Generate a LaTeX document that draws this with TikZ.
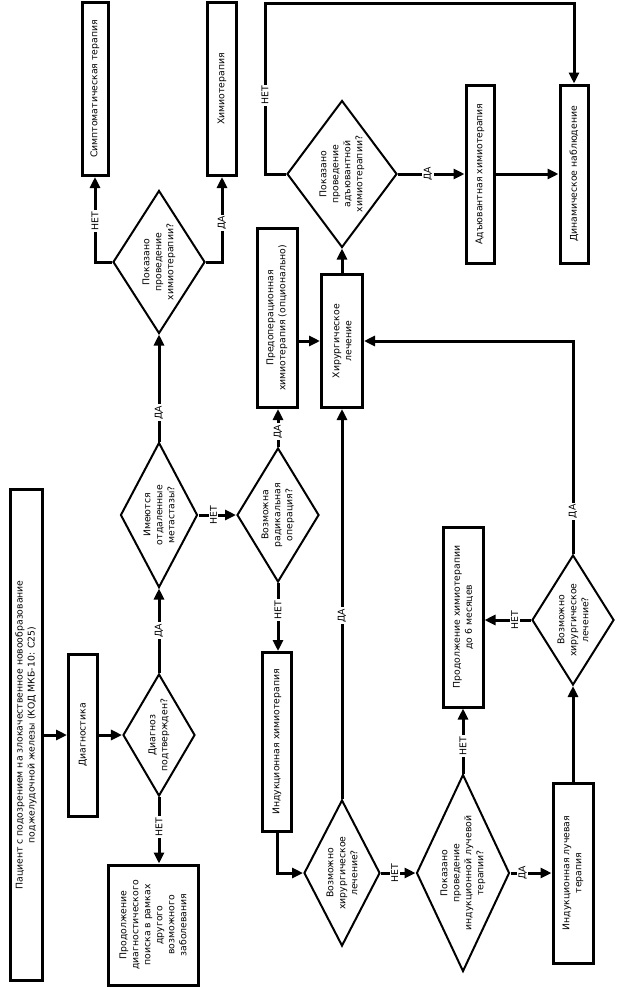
\documentclass[tikz,border=0pt]{standalone}
\usepackage{fontspec}
\setmainfont{DejaVu Sans}
\usetikzlibrary{shapes.geometric,arrows.meta}

\begin{document}
\begin{tikzpicture}
    [x=1pt,y=-1pt,
     every node/.style={font=\fontsize{9.3}{12}\selectfont},
     box/.style={draw,line width=3pt,rotate=90,align=center,inner sep=1pt},
     dia/.style={draw,diamond,line width=2pt,rotate=90,align=center,inner sep=-8pt,aspect=1.5},
     lab/.style={fill=white,rotate=90,inner sep=1.5pt},
     arr/.style={line width=3pt,-{Triangle[length=11pt,width=10pt]}},
     wire/.style={line width=3pt}]
    \useasboundingbox (0,0) rectangle (616,988);
    \node[box,minimum width=491pt,minimum height=32pt] (pat) at (26,735) {Пациент с подозрением на злокачественное новообразование\\поджелудочной железы (КОД МКБ-10: C25)};
    \node[box,minimum width=162pt,minimum height=29pt] (diag) at (83,735) {Диагностика};
    \node[dia,minimum width=122pt,minimum height=72pt] (d1) at (159,735) {Диагноз\\подтвержден?};
    \node[box,minimum width=120pt,minimum height=90pt] (cont) at (153,925) {Продолжение\\диагностического\\поиска в рамках\\другого\\возможного\\заболевания};
    \node[dia,minimum width=145pt,minimum height=77pt] (d2) at (159,515) {Имеются\\отдаленные\\метастазы?};
    \node[dia,minimum width=143pt,minimum height=92pt] (d3) at (159,262) {Показано\\проведение\\химиотерапии?};
    \node[box,minimum width=173pt,minimum height=26pt] (symp) at (95,89) {Симптоматическая терапия};
    \node[box,minimum width=173pt,minimum height=29pt] (chemo) at (222,89) {Химиотерапия};
    \node[dia,minimum width=134pt,minimum height=82pt] (d4) at (278,515) {Возможна\\радикальная\\операция?};
    \node[box,minimum width=179pt,minimum height=40pt] (preop) at (277,318) {Предоперационная\\химиотерапия (опционально)};
    \node[box,minimum width=133pt,minimum height=41pt] (surg) at (342,341) {Хирургическое\\лечение};
    \node[dia,minimum width=147pt,minimum height=110pt] (d5) at (342,174) {Показано\\проведение\\адъювантной\\химиотерапии?};
    \node[box,minimum width=178pt,minimum height=28pt] (adj) at (480,174) {Адъювантная химиотерапия};
    \node[box,minimum width=178pt,minimum height=28pt] (dyn) at (574,174) {Динамическое наблюдение};
    \node[box,minimum width=179pt,minimum height=29pt] (induc) at (277,742) {Индукционная химиотерапия};
    \node[dia,minimum width=146pt,minimum height=76pt] (d6) at (342,873) {Возможно\\хирургическое\\лечение?};
    \node[dia,aspect=2,minimum width=197pt,minimum height=93pt] (d7) at (463,873) {Показано\\проведение\\индукционной лучевой\\терапии?};
    \node[box,minimum width=180pt,minimum height=40pt] (cont6) at (463,617) {Продолжение химиотерапии\\до 6 месяцев};
    \node[box,minimum width=180pt,minimum height=40pt] (indrad) at (573,873) {Индукционная лучевая\\терапия};
    \node[dia,minimum width=130pt,minimum height=82pt] (d8) at (573,620) {Возможно\\хирургическое\\лечение?};
    \coordinate (c1) at (265,3);
    \draw[arr] (pat) -- (diag);
    \draw[arr] (diag) -- (d1);
    \draw[arr] (d1.west) -- node[lab,pos=0.45] {НЕТ} (d1.west |- cont.east);
    \draw[arr] (d1.east) -- node[lab] {ДА} (d2.west);
    \draw[arr] (d2.east) -- node[lab,pos=0.27] {ДА} (d3.west);
    \draw[arr] (d3.north) -| node[lab,pos=0.74] {НЕТ} (symp.west);
    \draw[arr] (d3.south) -| node[lab,pos=0.73] {ДА} (chemo.west);
    \draw[arr] (d2.south) -- node[lab,pos=0.4] {НЕТ} (d4.north);
    \draw[arr] (d4.east) -- node[lab,pos=0.4] {ДА} (d4.east |- preop.west);
    \draw[arr] (preop.south |- surg.north) -- (surg.north);
    \draw[arr] (surg.east) -- (d5.west);
    \draw[arr] (d5.north) -| node[lab,pos=0.73] {НЕТ} (c1) -| (dyn.east);
    \draw[arr] (d5.south) -- node[lab,pos=0.45] {ДА} (adj.north);
    \draw[arr] (adj.south) -- (dyn.north);
    \draw[arr] (d4.west) -- node[lab,pos=0.4] {НЕТ} (d4.west |- induc.east);
    \draw[arr] (induc.west) |- (d6.north);
    \draw[arr] (d6.east) -- node[lab,pos=0.47] {ДА} (surg.west);
    \draw[arr] (d6.south) -- node[lab,pos=0.4] {НЕТ} (d7.north);
    \draw[arr] (d7.east) -- node[lab,pos=0.42] {НЕТ} (cont6.west);
    \draw[arr] (d7.south) -- node[lab,pos=0.3] {ДА} (indrad.north);
    \draw[arr] (indrad.east) -- (d8.west);
    \draw[arr] (d8.north) -- node[lab,pos=0.35] {НЕТ} (d8.north -| cont6.south);
    \draw[arr] (d8.east) |- node[lab,pos=0.1] {ДА} (surg.south);
\end{tikzpicture}
\end{document}
